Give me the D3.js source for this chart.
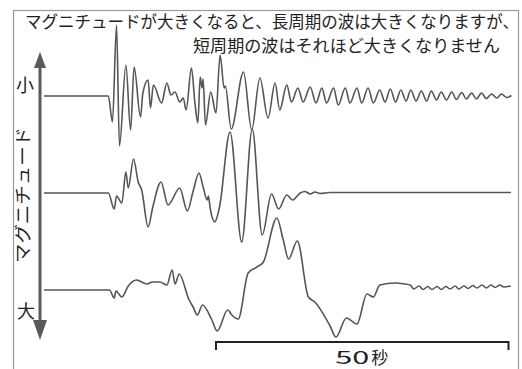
<!DOCTYPE html>
<html>
<head>
<meta charset="utf-8">
<script src="https://cdn.jsdelivr.net/npm/d3@7"></script>
<style>
  body { margin: 0; background: #fff; }
  text { font-family: "Noto Sans CJK JP", "Noto Sans", sans-serif; fill: #222; }
</style>
</head>
<body>
<div id="chart"></div>
<script>
// text
const titleLines = [
  "マグニチュードが大きくなると、長周期の波は大きくなりますが、",
  "短周期の波はそれほど大きくなりません"
];
const magnitudes = ["小", "中", "大"];
const axisLabel = "マグニチュード";
const scaleBarSec = [29.4, 79.4];
const scaleBarValue = "50";
const scaleBarUnit = "秒";

// seismograms: time (s) and amplitude
const smallT = [0, 11.0, 11.7, 12.4, 12.9, 14.0, 14.8, 15.4, 16.5, 16.9, 17.8, 18.2, 18.7, 20.1, 21.0, 21.7,
  22.4, 23.2, 23.8, 24.3, 25.2, 25.8, 26.3, 26.7, 27.0, 27.2, 27.6, 28.5, 29.4, 30.1, 30.8, 31.0, 32.0,
  34.1, 35.5, 36.9, 38.3, 39.5, 40.3, 41.5, 42.3, 43.4, 44.3, 45.5, 46.5, 47.5, 48.3, 49.5, 50.3, 51.5,
  52.3, 53.5, 54.3, 55.4, 56.3, 57.4, 58.3, 59.2, 60.1, 61.0, 61.9, 62.7, 63.6, 64.5, 65.4, 66.2, 67.1,
  67.9, 68.8, 69.7, 70.5, 71.4, 72.2, 73.1, 73.9, 74.8, 75.6, 76.5, 77.4, 78.2, 79.1, 79.9];
const smallA = [0, 0, -26, 71, -50, 31, -34, 29, -21, 3, 16, -12, 11, -7, 13, 1,
  4, -6, -2, -14, 28, -7, -27, 19, 8, 17, -29, 4, -17, 41, 8, 10, -33,
  24, -34, 18, -22, 13, -14, 11, -6, 8, -6, 9, -7, 8, -7, 8, -9, 8,
  -7, 8, -7, 8, -7, 6, -6, 7, -6, 6, -5, 6, -5, 5, -5, 5, -4,
  4, -4, 4, -3.5, 3.5, -3, 3, -3, 3, -2.5, 2, -2, 2, -1.5, 0.5];

const midT = [0, 11.0, 12.0, 12.4, 13.3, 14.0, 14.4, 15.3, 16.1, 16.7, 17.8, 18.6, 20.0, 21.2, 23.2, 24.5,
  25.5, 26.5, 27.2, 27.9, 28.1, 28.4, 29.2, 30.0, 31.8, 33.8, 35.6, 37.3, 38.9, 40.1, 41.5, 42.5, 43.8,
  44.6, 45.5, 46.3, 47.2, 48.9, 79.8];
const midA = [0, 0, -16, -3, -10, 21, 5, 34, 11, 3, -34, -14, 11, -12, 5, -18,
  2, 20, 6, -7, -3, -15, -29, -14, 61, -49, 64, -42, -1, -16, -2, -7, 0,
  1.5, -1, 1, -0.5, 0.5, 0.5];

const largeT = [0, 11.2, 12.0, 12.3, 13.3, 14.4, 15.8, 17.6, 18.5, 19.8, 21.0, 21.9, 22.4, 23.1, 24.8, 25.5,
  26.2, 27.1, 28.7, 29.6, 31.4, 32.1, 33.2, 34.9, 36.4, 37.5, 39.8, 40.9, 41.8, 43.3, 45.2, 46.3, 48.9,
  49.9, 51.7, 53.5, 55.2, 56.3, 57.4, 60.0, 61.7, 62.6, 63.2, 64.1, 64.8, 65.6, 66.3, 67.2, 67.9, 68.7,
  69.4, 70.3, 70.9, 71.8, 72.5, 73.3, 74.0, 74.9, 75.6, 76.4, 77.1, 77.9, 78.6, 79.8];
const largeA = [0, 0, -8, -1, -7, 4, 10, 6, 8, 8, 5, 20, 6, 16, -10, -17,
  -25, -15, -30, -41, -20, -25, -29, 17, 23, 28, 72, 50, 31, 49, -7, -12, -36,
  -47, -28, -34, -4, -7, 5, 7, 6, 5, 1, 4, 0.5, 3.5, 0.5, 3.5, 0.5, 3.5,
  1, 4, 1, 4, 1.5, 4.5, 2, 5, 2, 5, 2.5, 5, 3, 4];

const traces = [
  { key: "小", t: smallT, a: smallA },
  { key: "中", t: midT, a: midA },
  { key: "大", t: largeT, a: largeA }
];

const width = 522, height = 369;
const svg = d3.select("#chart").append("svg")
  .attr("width", width)
  .attr("height", height);

const x = d3.scaleLinear().domain([0, 80]).range([44, 512]);
const row = d3.scalePoint().domain(magnitudes).range([96, 290]);
const amp = d3.scaleLinear().domain([-50, 50]).range([50, -50]);

// frame
svg.append("rect")
  .attr("x", 13.5).attr("y", 10.5)
  .attr("width", 505).attr("height", 400)
  .attr("fill", "none")
  .attr("stroke", "#9a9a9a")
  .attr("stroke-width", 1.2);

// title
svg.append("text")
  .attr("x", 25).attr("y", 28)
  .attr("font-size", 16.5)
  .attr("textLength", 494)
  .attr("lengthAdjust", "spacingAndGlyphs")
  .text(titleLines[0]);
svg.append("text")
  .attr("x", 193).attr("y", 52)
  .attr("font-size", 16.5)
  .attr("textLength", 307)
  .attr("lengthAdjust", "spacingAndGlyphs")
  .text(titleLines[1]);

// magnitude arrow
const arrowX = 40;
const arrowTop = row("小") - 44, arrowBottom = row("大") + 50;
svg.append("line")
  .attr("x1", arrowX).attr("x2", arrowX)
  .attr("y1", arrowTop + 10).attr("y2", arrowBottom - 12)
  .attr("stroke", "#5a5a5a")
  .attr("stroke-width", 3);
svg.append("path")
  .attr("d", `M${arrowX},${arrowTop} L${arrowX - 6},${arrowTop + 16} L${arrowX + 6},${arrowTop + 16} Z`)
  .attr("fill", "#5a5a5a");
svg.append("path")
  .attr("d", `M${arrowX},${arrowBottom} L${arrowX - 7},${arrowBottom - 20} L${arrowX + 7},${arrowBottom - 20} Z`)
  .attr("fill", "#5a5a5a");

svg.append("text")
  .attr("x", 25).attr("y", row("小") - 4)
  .attr("font-size", 18)
  .attr("text-anchor", "middle")
  .text(magnitudes[0]);
svg.append("text")
  .attr("x", 26).attr("y", row("大") + 28)
  .attr("font-size", 18)
  .attr("text-anchor", "middle")
  .text(magnitudes[2]);
svg.append("text")
  .attr("transform", `translate(21,${row("中") + 2}) rotate(-90)`)
  .attr("font-size", 17)
  .attr("text-anchor", "middle")
  .attr("dominant-baseline", "central")
  .attr("textLength", 136)
  .attr("lengthAdjust", "spacingAndGlyphs")
  .text(axisLabel);

// traces
traces.forEach(tr => {
  const pts = tr.t.map((t, i) => [t, tr.a[i]]);
  const line = d3.line()
    .x(d => x(d[0]))
    .y(d => row(tr.key) + amp(d[1]))
    .curve(d3.curveMonotoneX);
  svg.append("path")
    .datum(pts)
    .attr("d", line)
    .attr("fill", "none")
    .attr("stroke", "#555")
    .attr("stroke-width", 1.6)
    .attr("stroke-linejoin", "round");
});

// 50 s scale bar
const barY = 342;
const x0 = x(scaleBarSec[0]), x1 = x(scaleBarSec[1]);
svg.append("path")
  .attr("d", `M${x0},${barY + 8} V${barY} H${x1} V${barY + 8}`)
  .attr("fill", "none")
  .attr("stroke", "#222")
  .attr("stroke-width", 2);
const barLabel = svg.append("text")
  .attr("x", (x0 + x1) / 2 - 27).attr("y", 364)
  .attr("font-size", 17);
barLabel.append("tspan")
  .attr("textLength", 34)
  .attr("lengthAdjust", "spacingAndGlyphs")
  .text(scaleBarValue);
barLabel.append("tspan")
  .attr("dx", 2)
  .text(scaleBarUnit);
</script>
</body>
</html>
